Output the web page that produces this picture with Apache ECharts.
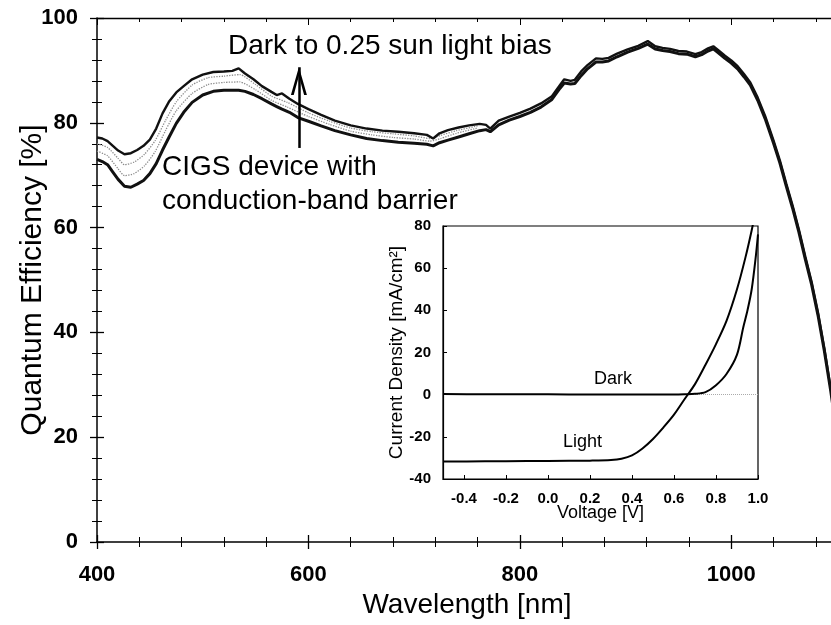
<!DOCTYPE html>
<html>
<head>
<meta charset="utf-8">
<script src="https://cdn.jsdelivr.net/npm/echarts@6/dist/echarts.min.js"></script>
<style>html,body{margin:0;padding:0;background:#fff}#c{width:831px;height:625px}</style>
</head>
<body>
<div id="c"></div>
<script>
// ---- Main QE curves (wavelength in nm, QE in %) ----
const wavelength = [400,405,410,415,420,426,432,438,444,450,456,462,468,475,482,490,500,510,520,528,534,540,548,556,565,570,575,582,590,600,612,625,640,655,670,685,700,712,718,724,732,742,752,762,768,772,780,790,800,810,820,830,838,842,848,852,858,864,872,878,884,892,902,912,921,928,935,942,950,958,966,972,978,983,988,994,1000,1006,1012,1018,1025,1032,1040,1046,1052,1058,1064,1070,1076,1082,1088,1094,1100];
// 0.25 sun light bias (upper curve)
const qeLightBias = [77.2,77.0,76.5,75.6,74.7,74.0,74.2,74.8,75.6,76.8,78.9,81.8,84.0,85.8,87.0,88.3,89.2,89.7,89.8,89.9,90.4,89.4,88.3,87.0,85.9,85.3,85.6,84.6,83.6,82.6,81.5,80.4,79.5,78.9,78.5,78.3,78.0,77.7,77.0,78.0,78.6,79.1,79.5,79.8,79.6,78.9,80.4,81.2,81.9,82.7,83.7,85.0,87.2,88.3,88.0,88.2,89.8,91.0,92.3,92.2,92.4,93.2,94.0,94.7,95.6,94.6,94.3,94.1,93.7,93.6,93.1,93.5,94.2,94.6,93.8,92.8,91.9,90.8,89.3,87.7,84.8,81.3,76.6,72.8,68.4,64.2,59.6,54.5,49.6,43.8,37.0,29.4,21.0];
// dark (lower curve)
const qeDark = [73.0,72.6,72.0,70.6,69.2,67.9,67.7,68.3,69.0,70.3,72.2,74.8,77.2,79.9,82.0,83.9,85.3,86.0,86.2,86.2,86.2,86.0,85.4,84.6,83.6,83.1,82.6,82.0,81.0,80.3,79.4,78.5,77.7,77.0,76.6,76.3,76.1,75.9,75.6,76.2,76.7,77.3,77.9,78.5,78.7,78.3,79.6,80.5,81.2,82.0,83.0,84.4,86.6,87.6,87.4,87.5,89.0,90.3,91.6,91.6,91.8,92.6,93.5,94.2,95.0,94.1,93.8,93.6,93.2,93.1,92.6,93.0,93.7,94.1,93.3,92.3,91.4,90.3,88.8,87.2,84.3,80.8,76.1,72.3,67.9,63.7,59.1,54.0,49.1,43.3,36.5,28.9,20.5];
// intermediate light-bias levels (dotted grey)
const bandWavelength = [400,410,420,426,435,445,455,465,475,490,505,520,535,550,565,580,600,620,640,660,680,700,715,725,740,760];
const qeMidUpper = [76.0,75.3,73.2,72.0,72.5,74.0,76.6,80.5,84.0,87.2,88.6,88.9,89.2,87.3,85.1,83.9,81.9,80.3,79.0,78.3,77.9,77.5,77.0,77.6,78.5,79.4];
const qeMidLower = [74.6,73.7,71.2,69.9,70.3,71.8,74.5,78.6,82.3,85.6,87.3,87.7,87.8,86.3,84.3,83.0,81.2,79.7,78.4,77.7,77.2,76.9,76.5,77.0,78.0,79.0];

// ---- Inset J-V curves (voltage in V, current density in mA/cm2) ----
const darkVoltage = [-0.5,-0.3,-0.1,0.1,0.3,0.5,0.6,0.65,0.7,0.75,0.8,0.85,0.9,0.93,0.95,0.97,0.99,1.0];
const darkCurrent = [0.3,0.2,0.2,0.1,0.1,0.1,0.1,0.2,0.4,1.2,4.5,9.8,19,32,40,50,66,76];
const lightVoltage = [-0.5,-0.3,-0.1,0.1,0.2,0.3,0.35,0.4,0.45,0.5,0.55,0.6,0.65,0.7,0.75,0.8,0.85,0.9,0.94,0.97,0.99];
const lightCurrent = [-31.7,-31.6,-31.5,-31.4,-31.3,-31.0,-30.4,-28.8,-25.5,-21.0,-15.5,-9.5,-2.2,5.0,14.2,24.0,35.0,50.0,65,78,88];
const insetVoltageTicks = [-0.4,-0.2,0.0,0.2,0.4,0.6,0.8,1.0];

// ---- Annotation arrow (data coordinates) ----
const arrowWavelength = 591;
const arrowFromQE = 75.2;
const arrowToQE = 90.6;
const arrowHeadCenterQE = 88.0;

const FONT = 'Liberation Sans, Arial, Helvetica, sans-serif';
const pairs = (xs, ys) => xs.map((x, i) => [x, ys[i]]);

const chart = echarts.init(document.getElementById('c'), null, {renderer: 'canvas'});

const mainXCommon = {type: 'value', gridIndex: 0, min: 400, max: 1100, interval: 200, splitLine: {show: false}};
const mainYCommon = {type: 'value', gridIndex: 0, min: 0, max: 100, interval: 20, splitLine: {show: false}};

const option = {
  animation: false,
  backgroundColor: '#fff',
  grid: [
    {left: 97, top: 18, width: 740, height: 524, outerBoundsMode: 'none', containLabel: false},
    {left: 443, top: 226, width: 315, height: 253, outerBoundsMode: 'none', containLabel: false,
      show: true, backgroundColor: '#fff', borderColor: '#000', borderWidth: 1.2}
  ],
  xAxis: [
    Object.assign({}, mainXCommon, {
      position: 'bottom',
      axisLine: {show: true, onZero: false, lineStyle: {color: '#000', width: 1.5}},
      axisTick: {show: true, inside: false, length: 7, lineStyle: {color: '#000', width: 1.3}},
      minorTick: {show: true, splitNumber: 5, length: 5, lineStyle: {color: '#000', width: 1}},
      axisLabel: {show: true, margin: 22, color: '#000', fontFamily: FONT, fontWeight: 'bold', fontSize: 22,
        showMaxLabel: false, formatter: v => String(v)},
      name: 'Wavelength [nm]', nameLocation: 'middle', nameGap: 49, nameMoveOverlap: false,
      nameTextStyle: {color: '#000', fontFamily: FONT, fontSize: 28}
    }),
    Object.assign({}, mainXCommon, {
      position: 'bottom',
      axisLine: {show: false, onZero: false},
      axisTick: {show: true, inside: true, length: 7, lineStyle: {color: '#000', width: 1.3}},
      minorTick: {show: true, splitNumber: 5, length: 5, lineStyle: {color: '#000', width: 1}},
      axisLabel: {show: false}
    }),
    Object.assign({}, mainXCommon, {
      position: 'top',
      axisLine: {show: true, onZero: false, lineStyle: {color: '#000', width: 1.3}},
      axisTick: {show: true, inside: true, length: 7, lineStyle: {color: '#000', width: 1}},
      minorTick: {show: true, splitNumber: 5, length: 4, lineStyle: {color: '#000', width: 1}},
      axisLabel: {show: false}
    }),
    {
      type: 'value', gridIndex: 1, min: -0.5, max: 1.0, position: 'bottom',
      splitLine: {show: false},
      axisLine: {show: true, onZero: false, lineStyle: {color: '#000', width: 1.2}},
      axisTick: {show: true, inside: true, length: 4, customValues: insetVoltageTicks, lineStyle: {color: '#000'}},
      axisLabel: {show: true, margin: 12, customValues: insetVoltageTicks, color: '#000', fontFamily: FONT, fontWeight: 'bold', fontSize: 15,
        formatter: v => v.toFixed(1)},
      name: 'Voltage [V]', nameLocation: 'middle', nameGap: 25, nameMoveOverlap: false,
      nameTextStyle: {color: '#000', fontFamily: FONT, fontSize: 18}
    }
  ],
  yAxis: [
    Object.assign({}, mainYCommon, {
      position: 'left',
      axisLine: {show: true, onZero: false, lineStyle: {color: '#000', width: 1.5}},
      axisTick: {show: true, inside: false, length: 7, lineStyle: {color: '#000', width: 1.3}},
      minorTick: {show: true, splitNumber: 5, length: 5, lineStyle: {color: '#000', width: 1}},
      axisLabel: {show: true, margin: 19, color: '#000', fontFamily: FONT, fontWeight: 'bold', fontSize: 22},
      name: 'Quantum Efficiency [%]', nameLocation: 'middle', nameGap: 49, nameMoveOverlap: false,
      nameTextStyle: {color: '#000', fontFamily: FONT, fontSize: 30}
    }),
    Object.assign({}, mainYCommon, {
      position: 'left',
      axisLine: {show: false, onZero: false},
      axisTick: {show: true, inside: true, length: 7, lineStyle: {color: '#000', width: 1.3}},
      minorTick: {show: true, splitNumber: 5, length: 5, lineStyle: {color: '#000', width: 1}},
      axisLabel: {show: false}
    }),
    {
      type: 'value', gridIndex: 1, min: -40, max: 80, interval: 20, position: 'left',
      splitLine: {show: false},
      axisLine: {show: true, onZero: false, lineStyle: {color: '#000', width: 1.2}},
      axisTick: {show: true, inside: true, length: 4, lineStyle: {color: '#000'}},
      axisLabel: {show: true, margin: 12, color: '#000', fontFamily: FONT, fontWeight: 'bold', fontSize: 15},
      name: 'Current Density [mA/cm²]', nameLocation: 'middle', nameGap: 37, nameMoveOverlap: false,
      nameTextStyle: {color: '#000', fontFamily: FONT, fontSize: 19}
    }
  ],
  series: [
    {
      name: 'mid-lower', type: 'line', xAxisIndex: 0, yAxisIndex: 0, showSymbol: false, smooth: 0.2,
      data: pairs(bandWavelength, qeMidLower),
      lineStyle: {color: '#8c8c8c', width: 1.3, type: 'dotted'}, z: 2
    },
    {
      name: 'mid-upper', type: 'line', xAxisIndex: 0, yAxisIndex: 0, showSymbol: false, smooth: 0.2,
      data: pairs(bandWavelength, qeMidUpper),
      lineStyle: {color: '#8c8c8c', width: 1.3, type: 'dotted'}, z: 2
    },
    {
      name: '0.25 sun', type: 'line', xAxisIndex: 0, yAxisIndex: 0, showSymbol: false,
      data: pairs(wavelength, qeLightBias),
      lineStyle: {color: '#111', width: 2.4}, z: 3
    },
    {
      name: 'Dark', type: 'line', xAxisIndex: 0, yAxisIndex: 0, showSymbol: false,
      data: pairs(wavelength, qeDark),
      lineStyle: {color: '#111', width: 3}, z: 3,
      markLine: {
        silent: true, symbol: ['none', 'none'], label: {show: false},
        lineStyle: {color: '#000', width: 2.5, type: 'solid'},
        data: [[{coord: [arrowWavelength, arrowFromQE]}, {coord: [arrowWavelength, arrowToQE]}]]
      },
      markPoint: {
        silent: true, label: {show: false},
        symbol: 'path://M0,0 L8,28 L5.2,28 L0,9 L-5.2,28 L-8,28 Z',
        symbolSize: [16, 28], symbolKeepAspect: false,
        itemStyle: {color: '#000'},
        data: [{coord: [arrowWavelength, arrowHeadCenterQE]}]
      }
    },
    {
      name: 'J-V dark', type: 'line', xAxisIndex: 3, yAxisIndex: 2, showSymbol: false, smooth: 0.3,
      data: pairs(darkVoltage, darkCurrent),
      lineStyle: {color: '#000', width: 2}, z: 6,
      markLine: {
        silent: true, symbol: ['none', 'none'], label: {show: false},
        lineStyle: {color: '#aaa', width: 1, type: 'dotted'},
        data: [{yAxis: 0}]
      }
    },
    {
      name: 'J-V light', type: 'line', xAxisIndex: 3, yAxisIndex: 2, showSymbol: false, smooth: 0.3,
      data: pairs(lightVoltage, lightCurrent),
      lineStyle: {color: '#000', width: 2}, z: 6
    }
  ],
  graphic: [
    {type: 'text', left: 228, top: 32, z: 10,
      style: {text: 'Dark to 0.25 sun light bias', font: '28px ' + FONT, fill: '#000'}},
    {type: 'text', left: 162, top: 153, z: 10,
      style: {text: 'CIGS device with', font: '28px ' + FONT, fill: '#000'}},
    {type: 'text', left: 162, top: 187, z: 10,
      style: {text: 'conduction-band barrier', font: '28px ' + FONT, fill: '#000'}},
    {type: 'text', left: 594, top: 370, z: 10,
      style: {text: 'Dark', font: '18px ' + FONT, fill: '#000'}},
    {type: 'text', left: 563, top: 433, z: 10,
      style: {text: 'Light', font: '18px ' + FONT, fill: '#000'}}
  ]
};
chart.setOption(option);
</script>
</body>
</html>
